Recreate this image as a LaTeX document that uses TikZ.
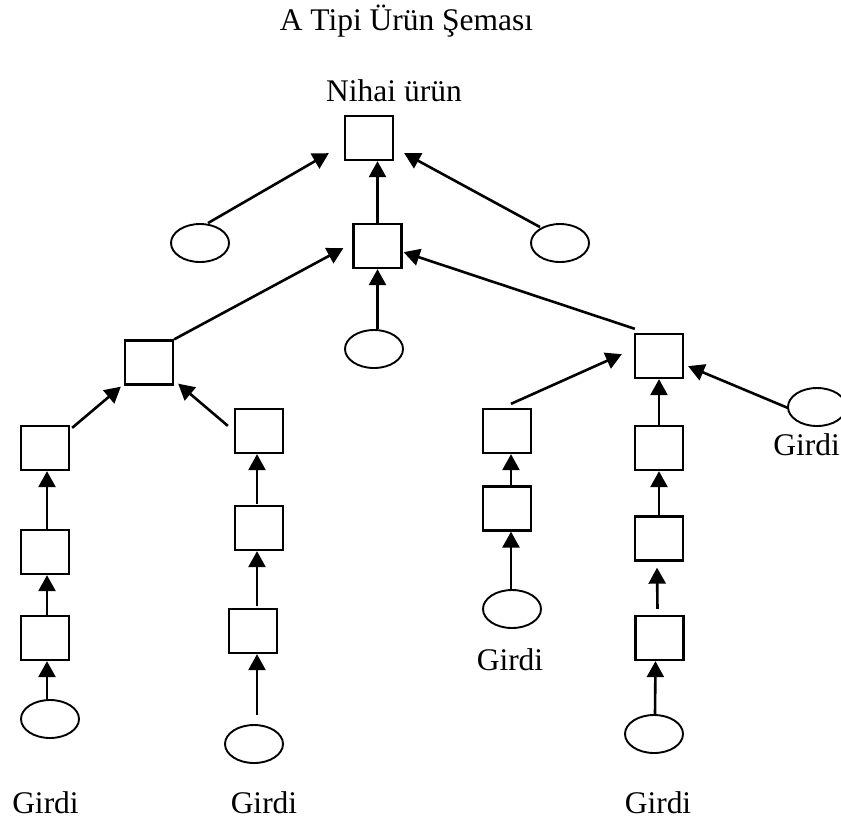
\documentclass[tikz,border=0pt]{standalone}
\usepackage{fontspec}
\setmainfont{Liberation Serif}
\usetikzlibrary{arrows.meta,shapes.geometric,calc}
\begin{document}
\begin{tikzpicture}[x=1pt,y=-1pt,
  txt/.style={font=\fontsize{31.5}{37}\selectfont,inner sep=0pt,anchor=base},
  box/.style={draw,line width=2.3pt,rectangle,minimum width=48pt,minimum height=44pt,inner sep=0pt},
  inp/.style={draw,line width=1.9pt,ellipse,minimum width=58pt,minimum height=38pt,inner sep=0pt},
  arr/.style={line width=2.6pt,-{Triangle[length=16pt,width=17pt]}}]
\useasboundingbox (0,0) rectangle (841,823);

% title and top label
\node[txt] (title) at (406.5,30) {A Tipi Ürün Şeması};
\node[txt] (top) at (394,101.5) {Nihai ürün};

% assembly boxes
\node[box] (N0) at (369,138) {};
\node[box] (N1) at (377.5,246) {};
\node[box] (N2) at (149,362.5) {};
\node[box] (N3) at (659,356) {};
\node[box] (N4) at (45,448) {};
\node[box] (N5) at (45,552) {};
\node[box] (N6) at (45,638) {};
\node[box] (N7) at (259,431) {};
\node[box] (N8) at (259,528) {};
\node[box] (N9) at (253,631) {};
\node[box] (N10) at (507,431) {};
\node[box] (N11) at (507,508.5) {};
\node[box] (N12) at (659,448) {};
\node[box] (N13) at (659,538.5) {};
\node[box] (N14) at (659.5,638) {};

% raw inputs
\node[inp] (E1) at (200,243) {};
\node[inp] (E2) at (560,243) {};
\node[inp] (E3) at (374,349) {};
\node[inp] (E4) at (50,719) {};
\node[inp] (E5) at (254,744) {};
\node[inp] (E6) at (512,609) {};
\node[inp] (E7) at (654,734) {};
\node[inp] (E8) at (817,407) {};

% input labels
\node[txt] (L4) at (45.5,813) {Girdi};
\node[txt] (L5) at (264,813) {Girdi};
\node[txt] (L6) at (510,670) {Girdi};
\node[txt] (L7) at (658,813) {Girdi};
\node[txt,anchor=base east] (L8) at (840,455) {Girdi};

% flows into the final product
\draw[arr] ($(E1.north)+(8,0)$) -- ($(N0.south west)+(-15,-8)$);
\draw[arr] ($(E2.north)+(-20,4)$) -- ($(N0.south east)+(10,-8)$);
\draw[arr] (N1.north) -- (N1.north |- N0.south);

% flows into the second level
\draw[arr] (N2.north east) -- ($(N1.south west)+(-9,-21)$);
\draw[arr] ($(N3.north west)+(1,-4)$) -- ($(N1.south east)+(1,-17)$);
\draw[arr] (N1.south |- E3.north) -- (N1.south);

% left branch
\draw[arr] ($(N4.north east)+(2,3)$) -- ($(N2.south west)+(-3,1)$);
\draw[arr] ($(N7.north west)+(-6,18)$) -- ($(N2.south east)+(4,-2)$);
\draw[arr] ($(N5.north)+(2,0)$) -- ($(N4.south)+(2,0)$);
\draw[arr] ($(N6.north)+(2,0)$) -- ($(N5.south)+(2,0)$);
\draw[arr] ($(E4.north)+(-3,0)$) -- ($(N6.south)+(2,0)$);
\draw[arr] ($(N8.north)+(-2,-1)$) -- ($(N7.south)+(-2,0)$);
\draw[arr] ($(N9.north)+(4,-2)$) -- ($(N8.south)+(-2,0)$);
\draw[arr] ($(E5.north)+(3,-9)$) -- ($(N9.south)+(4,0)$);

% right branch
\draw[arr] ($(N10.north)+(4,-4)$) -- ($(N3.south west)+(-12,-25)$);
\draw[arr] ($(N11.north)+(4,0)$) -- ($(N10.south)+(4,0)$);
\draw[arr] ($(E6.north)+(-1,0)$) -- ($(N11.south)+(4,0)$);
\draw[arr] (N12.north) -- (N3.south);
\draw[arr] (N13.north) -- (N12.south);
\draw[arr] ($(N14.north)+(-2,-6)$) -- ($(N13.south)+(-2,6)$);
\draw[arr] ($(E7.north)+(1,0)$) -- ($(N14.south)+(-4,0)$);
\draw[arr] ($(E8.west)+(1,1)$) -- ($(N3.south east)+(4,-13)$);
\end{tikzpicture}
\end{document}
